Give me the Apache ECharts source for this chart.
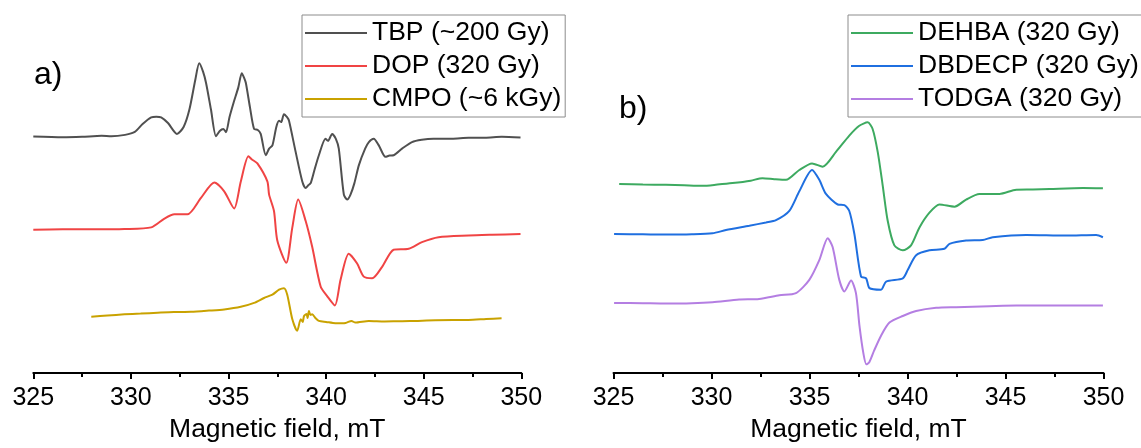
<!DOCTYPE html>
<html>
<head>
<meta charset="utf-8">
<script src="https://cdn.jsdelivr.net/npm/echarts@6/dist/echarts.min.js"></script>
<style>
html,body{margin:0;padding:0;background:#fff;}
#chart{width:1141px;height:448px;}
</style>
</head>
<body>
<div id="chart"></div>
<script>
// ---- data (magnetic field in mT, signal in arbitrary offset units) ----
const xTicks = [325, 330, 335, 340, 345, 350];

const tbpField = [325.0,326.5,327.5,328.5,329.0,329.7,330.2,330.6,331.04,331.3,331.55,331.9,332.36,332.7,333.0,333.3,333.5,333.7,333.85,334.1,334.36,334.55,334.74,334.87,335.05,335.26,335.5,335.68,335.8,335.89,336.1,336.31,336.5,336.65,336.91,337.08,337.25,337.45,337.59,337.7,337.84,338.0,338.1,338.44,338.78,338.95,339.1,339.21,339.4,339.63,339.97,340.1,340.31,340.5,340.65,340.91,341.08,341.25,341.45,341.68,342.0,342.19,342.44,342.7,343.04,343.25,343.46,343.89,344.4,344.9,345.5,346.44,347.3,348.14,349.0,349.96];
const tbpSignal = [240.3,239.5,240,241,240.5,242,245,253,259.7,260.5,259.7,254,243,250,268,298,314.7,306,294.7,268,240.7,246,248,244.7,260,274.7,290,304.7,300,294.7,270,248,247,243,221.3,228,231.3,250,256.3,255,263,260,256.3,224.7,194.7,188,191,193,206,221.3,238,236,243,238,228,181.3,176.3,181.3,193,211.3,228,234.7,238,231.3,219.7,221,221.3,228,234.7,237,238,238,239,239,240,239.3];

const dopField = [325.0,326.5,328.0,329.67,331.04,331.72,332.23,332.9,333.59,334.27,334.78,335.29,335.63,336.02,336.2,336.48,336.99,337.08,337.33,337.5,337.96,338.27,338.57,338.95,339.29,339.72,340.06,340.45,340.74,341.16,341.59,341.93,342.36,342.87,343.46,344.23,344.91,345.76,347.29,348.5,349.96];
const dopSignal = [145.7,146,146,146.3,148,157,161.3,161.3,178,193.7,184.7,167.3,194.7,220.3,217,213,194.7,181.3,164.7,134.7,112,148,176.3,154.7,128,88,78,68.7,94.7,121.3,111.3,98,96.3,108,125.3,126.3,133,138,139.7,140.5,141.3];

const cmpoField = [327.97,328.8,329.67,330.5,331.37,332.2,333.08,334.0,334.78,335.63,336.31,336.82,337.25,337.59,337.84,338.01,338.27,338.52,338.7,338.8,338.87,339.0,339.05,339.12,339.2,339.29,339.45,339.63,340.0,340.48,341.0,341.3,341.5,342.19,343.0,343.89,344.7,345.59,346.5,347.29,348.2,348.99];
const cmpoSignal = [57.3,58.5,59.7,60.5,61.3,62,62.3,63.5,64.7,67.3,71.3,76.3,79.7,84.7,86.3,79.7,54.7,43,54.7,52,58,60,56,63,59,59.7,56,53,52,50.7,51,53,51.3,53,52.5,52.7,53,53.7,54,54,55,55.7];

const dehbaField = [325.29,326.5,327.67,328.6,329.54,330.3,331.07,332.0,332.6,333.2,333.8,334.48,335.13,335.67,336.35,337.03,337.54,337.97,338.22,338.48,338.73,338.99,339.33,339.76,340.18,340.61,341.12,341.63,342.4,342.99,343.67,344.69,345.55,346.4,347.25,348.95,349.97];
const dehbaSignal = [192,191.5,191.3,190.8,190.3,191.5,193,195.5,198,197,196.3,206.3,213,209.7,224.7,241.3,251.3,254.7,248,224.7,191.3,154.7,129.7,124.7,129.7,148,163,171.3,169,176.3,182,182,186.3,186.5,187,188,187.7];

const dbdecpField = [325.03,326.5,327.67,329.0,330.05,330.74,331.93,332.78,333.29,333.97,334.48,335.13,335.5,335.84,336.44,336.78,337.03,337.29,337.63,337.89,338.06,338.65,338.91,339.76,340.01,340.44,341.12,341.88,342.14,342.99,343.84,344.35,346.06,348.1,349.63,349.97];
const dbdecpSignal = [141.3,141,140.7,141,142,145.3,149.7,153,155.3,164.7,184.7,206.3,196.3,182,171.3,170.7,164.7,141.3,98,96.3,86.3,84.7,93,96.3,104.7,119.7,124.7,126.3,131.3,134.7,135.3,138,140.3,139.7,140.3,138];

const todgaField = [325.03,326.5,327.67,329.0,330.05,331.41,332.43,333.46,334.31,334.99,335.5,335.93,336.18,336.52,336.78,337.12,337.37,337.55,337.75,337.9,338.05,338.3,338.65,339.08,339.76,340.44,341.46,342.48,344.18,345.55,347.5,349.97];
const todgaSignal = [71.3,71,70.7,71,72,74.7,75.3,79,81.3,94.7,114.7,137,128,94.7,83,94,81.3,48,20,9,11,23,38,51.3,58,63,66.3,67,68,68.7,68.7,68.7];

const seriesNames = ['TBP (~200 Gy)','DOP (320 Gy)','CMPO (~6 kGy)','DEHBA (320 Gy)','DBDECP (320 Gy)','TODGA (320 Gy)'];
const seriesColors = ['#505050','#f04444','#c9a200','#3daa60','#1f6fe0','#b47ee2'];
// ---------------------------------------------------------------------

const zip = (a, b) => a.map((v, i) => [v, b[i]]);
const sets = [
  [tbpField, tbpSignal, 0], [dopField, dopSignal, 0], [cmpoField, cmpoSignal, 0],
  [dehbaField, dehbaSignal, 1], [dbdecpField, dbdecpSignal, 1], [todgaField, todgaSignal, 1]
];

const FONT = '"Liberation Sans", Arial, sans-serif';
const AXIS_Y = 379;

function xAx(gi) {
  return {
    type: 'value', gridIndex: gi, min: 325, max: 350, interval: 5,
    name: 'Magnetic field, mT', nameLocation: 'middle', nameGap: 40,
    nameTextStyle: {fontSize: 26.5, color: '#000', fontFamily: FONT},
    axisLine: {show: true, onZero: false, lineStyle: {color: '#000', width: 2}},
    axisTick: {show: true, inside: false, length: 6, lineStyle: {color: '#000', width: 2}},
    minorTick: {show: true, splitNumber: 2, length: 4, lineStyle: {color: '#000', width: 2}},
    splitLine: {show: false},
    axisLabel: {fontSize: 25, color: '#000', fontFamily: FONT, margin: 13},
  };
}
function yAx(gi) {
  return {type: 'value', gridIndex: gi, min: 0, max: AXIS_Y, show: false,
    axisLine: {show: false}, splitLine: {show: false}};
}

const legendCommon = {
  orient: 'vertical', top: 15, itemWidth: 62, itemHeight: 2, itemGap: 3,
  icon: 'rect', borderColor: '#8c8c8c', borderWidth: 1,
  textStyle: {fontSize: 26.5, color: '#000', fontFamily: FONT, lineHeight: 30}
};

const chart = echarts.init(document.getElementById('chart'), null, {renderer: 'canvas'});
chart.setOption({
  animation: false,
  backgroundColor: '#fff',
  grid: [
    {left: 33.3, right: 1141 - 521.3, top: 0, bottom: 448 - AXIS_Y},
    {left: 613.5, right: 1141 - 1103.5, top: 0, bottom: 448 - AXIS_Y}
  ],
  xAxis: [xAx(0), xAx(1)],
  yAxis: [yAx(0), yAx(1)],
  legend: [
    Object.assign({}, legendCommon, {data: seriesNames.slice(0, 3), left: 302, padding: [3, 4, 3, 3]}),
    Object.assign({}, legendCommon, {data: seriesNames.slice(3), left: 848, padding: [3, 30, 3, 3]})
  ],
  graphic: [
    {type: 'text', left: 34, top: 59, style: {text: 'a)', fill: '#000', font: '32px ' + FONT}},
    {type: 'text', left: 619, top: 93, style: {text: 'b)', fill: '#000', font: '32px ' + FONT}}
  ],
  series: sets.map((s, i) => ({
    name: seriesNames[i], type: 'line', xAxisIndex: s[2], yAxisIndex: s[2],
    data: zip(s[0], s[1]), symbol: 'none', smooth: 0.25,
    lineStyle: {color: seriesColors[i], width: 2}, itemStyle: {color: seriesColors[i]}
  }))
});
</script>
</body>
</html>
